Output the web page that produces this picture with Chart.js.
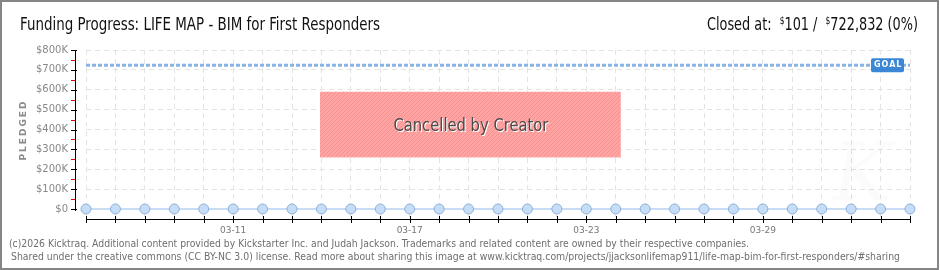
<!DOCTYPE html>
<html><head><meta charset="utf-8">
<script src="https://cdn.jsdelivr.net/npm/chart.js@4"></script>
<style>html,body{margin:0;padding:0;background:#fff;}canvas{display:block}</style>
</head><body>
<canvas id="c" width="940" height="270"></canvas>
<script>
// ---- data ----
const dates = ['03-06','03-07','03-08','03-09','03-10','03-11','03-12','03-13','03-14','03-15',
  '03-16','03-17','03-18','03-19','03-20','03-21','03-22','03-23','03-24','03-25','03-26','03-27',
  '03-28','03-29','03-30','03-31','04-01','04-02','04-03'];
const tickLabels = ['03-11','03-17','03-23','03-29'];
const pledged = [0,101,101,101,101,101,101,101,101,101,101,101,101,101,101,101,101,101,101,101,
  101,101,101,101,101,101,101,101,101];
const goal = 722832;
const closedAt = 101;
const yTicks = [0,100000,200000,300000,400000,500000,600000,700000,800000];
const yMinorTicks = [50000,150000,250000,350000,450000,550000,650000,750000];
const titleText = 'Funding Progress: LIFE MAP - BIM for First Responders';
const statusText = 'Cancelled by Creator';
const footerLines = [
  '(c)2026 Kicktraq. Additional content provided by Kickstarter Inc. and Judah Jackson. Trademarks and related content are owned by their respective companies.',
  'Shared under the creative commons (CC BY-NC 3.0) license. Read more about sharing this image at www.kicktraq.com/projects/jjacksonlifemap911/life-map-bim-for-first-responders/#sharing'
];

function fitText(ctx, text, x, y, font, targetW, color) {
  ctx.save();
  ctx.font = font;
  ctx.fillStyle = color;
  ctx.textBaseline = 'alphabetic';
  ctx.textAlign = 'left';
  const w = ctx.measureText(text).width;
  const s = targetW / w;
  ctx.translate(x, y);
  ctx.scale(s, 1);
  ctx.fillText(text, 0, 0);
  ctx.restore();
}

function hatchPattern(ctx) {
  const p = document.createElement('canvas');
  p.width = 4; p.height = 4;
  const c = p.getContext('2d');
  c.fillStyle = '#ffa3a3';
  c.fillRect(0, 0, 4, 4);
  c.strokeStyle = 'rgba(220,110,110,0.35)';
  c.lineWidth = 1;
  c.beginPath();
  c.moveTo(0, 4); c.lineTo(4, 0);
  c.moveTo(-1, 1); c.lineTo(1, -1);
  c.moveTo(3, 5); c.lineTo(5, 3);
  c.stroke();
  return ctx.createPattern(p, 'repeat');
}

const decor = {
  id: 'decor',
  beforeDatasetsDraw(chart) {
    const {ctx, chartArea: a, scales: {x, y}} = chart;
    // cancelled overlay
    const bx0 = a.left + (a.right - a.left) * 0.284;
    const bx1 = a.left + (a.right - a.left) * 0.649;
    const by0 = y.getPixelForValue(590000);
    const by1 = y.getPixelForValue(257000);
    ctx.save();
    ctx.fillStyle = hatchPattern(ctx);
    ctx.fillRect(bx0, by0, bx1 - bx0, by1 - by0);
    ctx.fillStyle = '#ffd6d6';
    ctx.fillRect(bx0, by1 - 1, bx1 - bx0, 1);
    ctx.restore();
    ctx.save();
    const f = '18px "Liberation Sans Narrow", "DejaVu Sans Condensed", sans-serif';
    const cx = (bx0 + bx1) / 2 - 77;
    const cy = (by0 + by1) / 2 + 6;
    fitText(ctx, statusText, cx + 1, cy + 1, f, 155, '#ffffff');
    fitText(ctx, statusText, cx, cy, f, 155, '#4a4a4a');
    ctx.restore();
  },
  afterDraw(chart) {
    const {ctx, chartArea: a, scales: {x, y}} = chart;
    ctx.save();
    ctx.setLineDash([]);
    // watermark
    ctx.font = 'italic 80px "DejaVu Serif", serif';
    ctx.fillStyle = 'rgba(0,0,0,0.015)';
    ctx.fillText('K', 832, 200);
    // y axis
    const yAxisX = Math.round(a.left - 11);
    const yTop = Math.round(y.getPixelForValue(800000));
    const yBot = Math.round(y.getPixelForValue(0)) + 2;
    ctx.fillStyle = '#000';
    ctx.fillRect(yAxisX, yTop, 1, yBot - yTop);
    yTicks.forEach(v => {
      const py = Math.round(y.getPixelForValue(v));
      ctx.fillRect(yAxisX - 4, py, 6, 1);
    });
    ctx.fillStyle = '#e00000';
    yMinorTicks.forEach(v => {
      const py = Math.round(y.getPixelForValue(v));
      ctx.fillRect(yAxisX - 4, py, 4, 1);
    });
    // x axis
    const axY = Math.round(a.bottom) - 1;
    const x0 = Math.round(x.getPixelForValue(0));
    const x1 = Math.round(x.getPixelForValue(dates.length - 1));
    ctx.fillStyle = '#000';
    ctx.fillRect(x0, axY, x1 - x0 + 1, 1);
    dates.forEach((d, i) => {
      const px = Math.round(x.getPixelForValue(i));
      ctx.fillRect(px, axY - 3, 1, 7);
    });
    // goal label
    const gy = y.getPixelForValue(goal);
    const gx1 = x.getPixelForValue(dates.length - 1) - 6;
    const gx0 = gx1 - 33;
    ctx.fillStyle = '#3b87d6';
    ctx.beginPath();
    ctx.roundRect(gx0, gy - 7, 33, 14, 2);
    ctx.fill();
    ctx.fillStyle = '#fff';
    ctx.font = 'bold 8px "DejaVu Sans", sans-serif';
    ctx.letterSpacing = '1px';
    ctx.textBaseline = 'middle';
    ctx.fillText('GOAL', gx0 + 3, gy);
    ctx.letterSpacing = '0px';
    // PLEDGED
    ctx.save();
    ctx.translate(24, 130);
    ctx.rotate(-Math.PI / 2);
    ctx.font = 'bold 9px "DejaVu Sans", sans-serif';
    ctx.letterSpacing = '2px';
    ctx.fillStyle = '#8a8a8a';
    ctx.textAlign = 'center';
    ctx.textBaseline = 'middle';
    ctx.fillText('PLEDGED', 0, 0);
    ctx.restore();
    // title
    fitText(ctx, titleText, 20, 30, '17px "Liberation Sans Narrow", "DejaVu Sans Condensed", sans-serif', 360, '#111');
    // closed at
    const f1 = '17px "Liberation Sans Narrow", "DejaVu Sans Condensed", sans-serif';
    const f2 = '10px "Liberation Sans Narrow", "DejaVu Sans Condensed", sans-serif';
    const parts = [
      [f1, 'Closed at:  ', 0], [f2, '$', -6], [f1, String(closedAt) + ' /  ', 0], [f2, '$', -6],
      [f1, goal.toLocaleString('en-US') + ' (' + Math.round(closedAt / goal * 100) + '%)', 0]
    ];
    let tot = 0;
    parts.forEach(p => { ctx.font = p[0]; tot += ctx.measureText(p[1]).width; });
    const sc = 211 / tot;
    ctx.save();
    ctx.translate(707, 30);
    ctx.scale(sc, 1);
    ctx.fillStyle = '#111';
    ctx.textBaseline = 'alphabetic';
    ctx.textAlign = 'left';
    let cx = 0;
    parts.forEach(p => { ctx.font = p[0]; ctx.fillText(p[1], cx, p[2]); cx += ctx.measureText(p[1]).width; });
    ctx.restore();
    // footer
    fitText(ctx, footerLines[0], 9, 247, '11px "DejaVu Sans", sans-serif', 740, '#6e6e6e');
    fitText(ctx, footerLines[1], 11, 260, '11px "DejaVu Sans", sans-serif', 889, '#6e6e6e');
    // border
    ctx.strokeStyle = '#858585';
    ctx.lineWidth = 2;
    ctx.strokeRect(1, 1, 937, 268);
    ctx.restore();
  }
};

new Chart(document.getElementById('c').getContext('2d'), {
  type: 'line',
  data: {
    datasets: [
      {
        label: 'Goal',
        data: [{x: 0, y: goal}, {x: dates.length - 1, y: goal}],
        borderColor: '#8ab4e6', borderWidth: 3, borderDash: [4, 2], pointRadius: 0, clip: false
      },
      {
        label: 'Pledged',
        data: pledged.map((v, i) => ({x: i, y: v})),
        borderColor: '#c8ddf5', borderWidth: 2, clip: false,
        pointRadius: 5, pointBackgroundColor: '#c6ddf7', pointBorderColor: '#8fb1d9', pointBorderWidth: 1
      }
    ]
  },
  options: {
    responsive: false, animation: false, events: [],
    layout: {padding: {top: 50, right: 30, bottom: 30, left: 0}},
    plugins: {legend: {display: false}, tooltip: {enabled: false}},
    scales: {
      x: {
        type: 'linear', min: 0, max: dates.length - 1,
        afterBuildTicks: s => { s.ticks = dates.map((d, i) => ({value: i})); },
        afterFit: s => { s.height = 20; },
        ticks: {
          autoSkip: false, maxRotation: 0, padding: 5, color: '#777',
          font: {family: 'DejaVu Sans', size: 9},
          callback: v => tickLabels.includes(dates[v]) ? dates[v] : ''
        },
        grid: {color: '#e3e3e3', drawTicks: false},
        border: {display: false, dash: [5, 4]}
      },
      y: {
        min: -55300, max: 800000,
        afterBuildTicks: s => { s.ticks = yTicks.map(v => ({value: v})); },
        afterFit: s => { s.width = 86; },
        ticks: {
          padding: 18, color: '#888',
          font: {family: 'DejaVu Sans', size: 10},
          callback: v => v === 0 ? '$0' : '$' + (v / 1000) + 'K'
        },
        grid: {color: '#e3e3e3', drawTicks: false},
        border: {display: false, dash: [5, 4]}
      }
    }
  },
  plugins: [decor]
});
</script>
</body></html>
